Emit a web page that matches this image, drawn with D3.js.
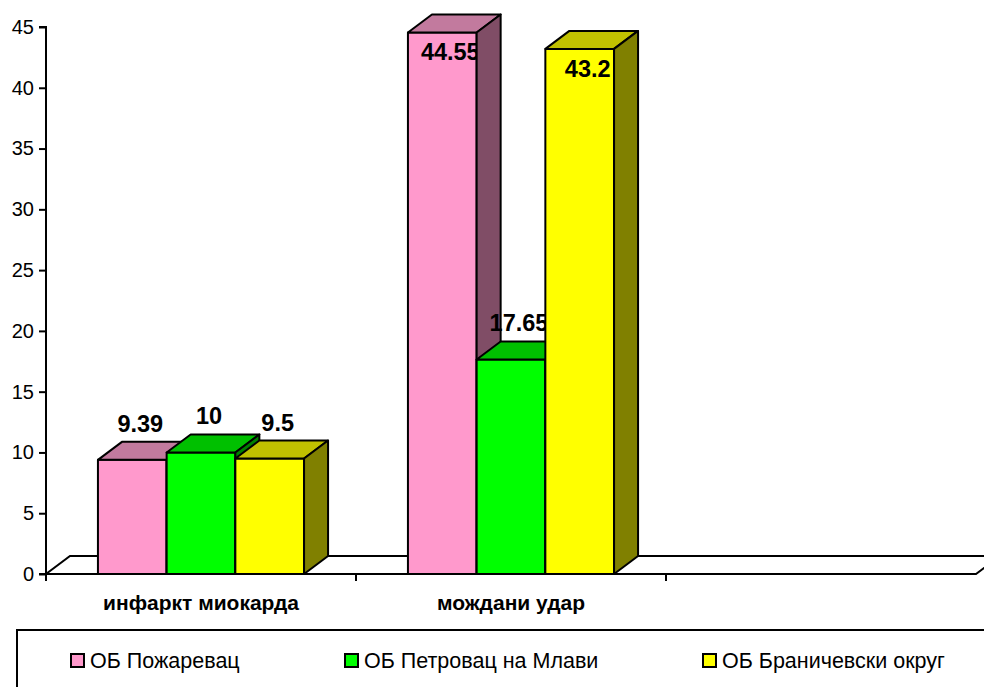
<!DOCTYPE html>
<html>
<head>
<meta charset="utf-8">
<script src="https://cdn.jsdelivr.net/npm/d3@7"></script>
<style>
  html, body { margin: 0; padding: 0; background: #fff; }
  svg { display: block; font-family: "Liberation Sans", Arial, sans-serif; }
</style>
</head>
<body>
<svg id="chart" width="984" height="687"></svg>
<script>
// ---- data ----
const categories = ["инфаркт миокарда", "мождани удар", ""];
const seriesNames = ["ОБ Пожаревац", "ОБ Петровац на Млави", "ОБ Браничевски округ"];
const pozarevac = [9.39, 44.55, null];
const petrovac = [10, 17.65, null];
const branicevo = [9.5, 43.2, null];
const yTicks = [0, 5, 10, 15, 20, 25, 30, 35, 40, 45];

const seriesValues = [pozarevac, petrovac, branicevo];
const colors = [
  { front: "#FF99CC", top: "#C27A9E", side: "#804D66" },
  { front: "#00FF00", top: "#00C000", side: "#008000" },
  { front: "#FFFF00", top: "#C0C000", side: "#808000" }
];

const svg = d3.select("#chart");
const pLeft = 46, pRight = 976, pTop = 27, pBottom = 574;
const dx = 24, dy = -18;

const x0 = d3.scaleBand().domain(categories.map((c, i) => i)).range([pLeft, pRight]).paddingInner(0).paddingOuter(0);
const x1 = d3.scaleBand().domain(seriesNames.map((s, i) => i)).range([0, x0.bandwidth()]).paddingInner(0).paddingOuter(0.756);
const y = d3.scaleLinear().domain([0, 45]).range([pBottom, pTop]);

// floor
svg.append("path")
  .attr("d", `M${pLeft},${pBottom} L${pRight},${pBottom} L${pRight + dx},${pBottom + dy} L${pLeft + dx},${pBottom + dy} Z`)
  .attr("fill", "#fff").attr("stroke", "#000").attr("stroke-width", 2);

// bars
const g = svg.append("g");
const line = d3.line();
categories.forEach((cat, ci) => {
  seriesValues.forEach((vals, si) => {
    const v = vals[ci];
    if (v == null) return;
    const xl = x0(ci) + x1(si);
    const xr = xl + x1.bandwidth();
    const yt = y(v), yb = y(0);
    const c = colors[si];
    // front
    g.append("path").attr("d", line([[xl, yb], [xr, yb], [xr, yt], [xl, yt]]) + "Z")
      .attr("fill", c.front).attr("stroke", "#000").attr("stroke-width", 2).attr("stroke-linejoin", "round");
    // label
    let ly = yt - 36;
    if (ly < pTop + 20) ly = yt + 20;
    g.append("text").attr("x", (xl + xr) / 2 + 8).attr("y", ly)
      .attr("text-anchor", "middle").attr("dominant-baseline", "central")
      .attr("font-weight", "bold").attr("font-size", 23.5).attr("fill", "#000")
      .text(String(v));
    // top
    g.append("path").attr("d", line([[xl, yt], [xr, yt], [xr + dx, yt + dy], [xl + dx, yt + dy]]) + "Z")
      .attr("fill", c.top).attr("stroke", "#000").attr("stroke-width", 2).attr("stroke-linejoin", "round");
    // side
    g.append("path").attr("d", line([[xr, yb], [xr + dx, yb + dy], [xr + dx, yt + dy], [xr, yt]]) + "Z")
      .attr("fill", c.side).attr("stroke", "#000").attr("stroke-width", 2).attr("stroke-linejoin", "round");
  });
});

// y axis
const yAxis = svg.append("g").attr("transform", `translate(${pLeft},0)`)
  .call(d3.axisLeft(y).tickValues(yTicks).tickSize(7).tickPadding(5));
yAxis.select(".domain").attr("stroke", "#000").attr("stroke-width", 2).attr("d", `M-7,${pTop}H0V${pBottom}H-7`);
yAxis.selectAll(".tick line").attr("stroke", "#000").attr("stroke-width", 2);
yAxis.selectAll(".tick text").attr("font-size", 20).attr("fill", "#000").attr("font-family", "Liberation Sans, Arial, sans-serif");

// x axis
const xAxis = svg.append("g").attr("transform", `translate(0,${pBottom})`);
xAxis.append("line").attr("x1", pLeft).attr("x2", pRight).attr("y1", 0).attr("y2", 0)
  .attr("stroke", "#000").attr("stroke-width", 2);
const bounds = categories.map((c, i) => x0(i));
xAxis.selectAll("line.tick").data(bounds).join("line").attr("class", "tick")
  .attr("x1", d => d).attr("x2", d => d).attr("y1", 0).attr("y2", 7)
  .attr("stroke", "#000").attr("stroke-width", 2);
xAxis.selectAll("text.cat").data(categories).join("text").attr("class", "cat")
  .attr("x", (d, i) => x0(i) + x0.bandwidth() / 2).attr("y", 36)
  .attr("text-anchor", "middle").attr("font-weight", "bold").attr("font-size", 21).attr("fill", "#000")
  .text(d => d);

// legend
const legend = svg.append("g");
legend.append("rect").attr("x", 17).attr("y", 630).attr("width", 1000).attr("height", 100)
  .attr("fill", "#fff").attr("stroke", "#000").attr("stroke-width", 2);
const legendX = [70, 344, 702];
const items = legend.selectAll("g.item").data(seriesNames).join("g").attr("class", "item")
  .attr("transform", (d, i) => `translate(${legendX[i]},660.5)`);
items.append("rect").attr("x", 1).attr("y", -6.5).attr("width", 13).attr("height", 13)
  .attr("fill", (d, i) => colors[i].front).attr("stroke", "#000").attr("stroke-width", 2);
items.append("text").attr("x", 20).attr("y", 0).attr("dominant-baseline", "central")
  .attr("font-size", 21.5).attr("fill", "#000").text(d => d);
</script>
</body>
</html>
